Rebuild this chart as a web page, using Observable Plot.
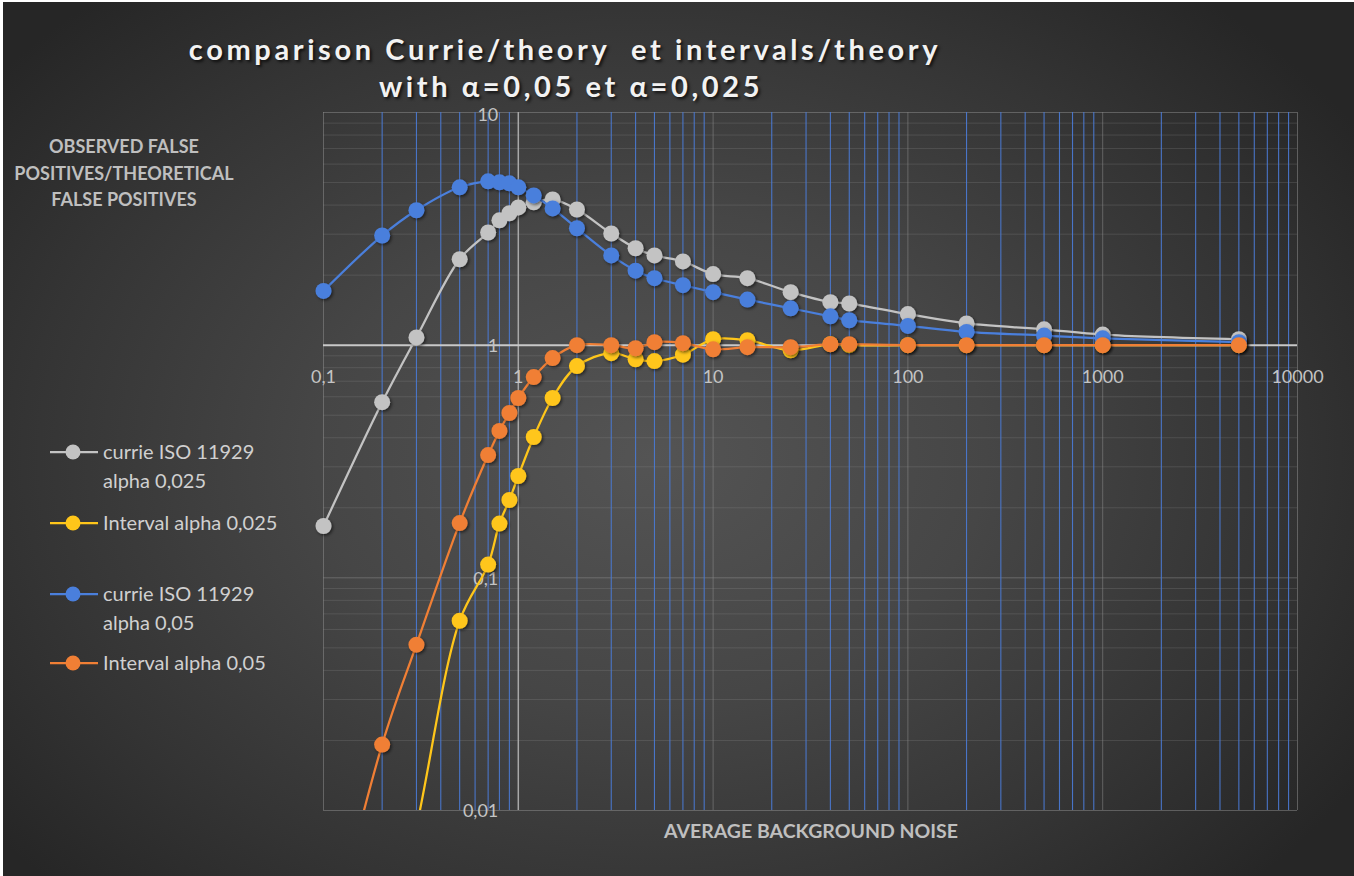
<!DOCTYPE html>
<html>
<head>
<meta charset="utf-8">
<script src="https://cdn.jsdelivr.net/npm/d3@7"></script>
<script src="https://cdn.jsdelivr.net/npm/@observablehq/plot@0.6"></script>
<style>
  html, body { margin: 0; padding: 0; background: #ffffff; }
  #wrap { position: relative; width: 1354px; height: 876px; overflow: hidden; font-family: Lato, "Open Sans", sans-serif; }
  #bg { position: absolute; left: 3px; top: 2px; right: 0; bottom: 0;
        background: radial-gradient(ellipse 62% 70% at 48% 52%, #545454 0%, #464646 40%, #343434 75%, #262626 100%); }
  #chart { position: absolute; left: 0; top: 0; }
  .ttl { position: absolute; color: #f2f2f2; font-weight: 700; font-size: 29px; letter-spacing: 3.6px; line-height: 0.8;
         text-shadow: 2px 2px 3px rgba(0,0,0,0.7); white-space: pre; transform: translate(-50%, -50%); }
  .ytl { position: absolute; color: #bfbfbf; font-weight: 700; font-size: 18px; white-space: nowrap; line-height: 1;
         transform: translate(-50%, -50%); text-align: center; }
  .leg { position: absolute; color: #d0d0d0; font-size: 20px; white-space: nowrap; line-height: 29px; }
</style>
</head>
<body>
<div id="wrap">
  <div id="bg"></div>
  <div id="chart"></div>
</div>
<script>
// ---- data ----
const noise = [0.1, 0.2, 0.3, 0.5, 0.7, 0.8, 0.9, 1, 1.2, 1.5, 2, 3, 4, 5, 7, 10, 15, 25, 40, 50, 100, 200, 500, 1000, 5000];
const currie025 = [0.167, 0.569, 1.08, 2.34, 3.05, 3.44, 3.69, 3.91, 4.11, 4.23, 3.83, 3.02, 2.61, 2.43, 2.29, 2.02, 1.94, 1.69, 1.53, 1.51, 1.36, 1.24, 1.17, 1.11, 1.06];
const interval025 = [0.0003, 0.002, 0.0085, 0.0654, 0.114, 0.171, 0.216, 0.274, 0.403, 0.593, 0.813, 0.924, 0.87, 0.854, 0.91, 1.06, 1.05, 0.95, 1.01, 1.0, 1.0, 1.0, 1.0, 1.0, 1.0];
const currie05 = [1.71, 2.96, 3.80, 4.77, 5.06, 5.01, 4.96, 4.77, 4.40, 3.87, 3.18, 2.43, 2.09, 1.94, 1.81, 1.69, 1.57, 1.44, 1.33, 1.28, 1.21, 1.14, 1.10, 1.07, 1.03];
const interval05 = [0.002, 0.0192, 0.0516, 0.172, 0.337, 0.428, 0.511, 0.593, 0.729, 0.880, 1.0, 1.0, 0.97, 1.03, 1.02, 0.96, 0.98, 0.98, 1.01, 1.01, 1.0, 1.0, 1.0, 1.0, 1.0];

const seriesNames = ["currie ISO 11929 alpha 0,025", "Interval alpha 0,025", "currie ISO 11929 alpha 0,05", "Interval alpha 0,05"];
const seriesLegend = [["currie ISO 11929", "alpha 0,025"], ["Interval alpha 0,025"], ["currie ISO 11929", "alpha 0,05"], ["Interval alpha 0,05"]];
const seriesColors = ["#c3c3c3", "#ffc61a", "#4a7fdc", "#f07f35"];
const seriesValues = [currie025, interval025, currie05, interval05];

const xTickValues = [0.1, 1, 10, 100, 1000, 10000];
const xTickLabels = ["0,1", "1", "10", "100", "1000", "10000"];
const yTickValues = [0.01, 0.1, 1, 10];
const yTickLabels = ["0,01", "0,1", "1", "10"];

const titleLines = ["comparison Currie/theory  et intervals/theory", "with \u03B1=0,05 et \u03B1=0,025"];
const yTitleLines = ["OBSERVED FALSE", "POSITIVES/THEORETICAL", "FALSE POSITIVES"];
const xTitle = "AVERAGE BACKGROUND NOISE";

// ---- derived tables ----
const rows = seriesNames.flatMap((s, i) => noise.map((x, j) => ({s, x, y: seriesValues[i][j]})));
const yTicks = yTickValues.map((v, i) => ({v, label: yTickLabels[i]}));
const decades = [0.1, 1, 10, 100, 1000];
const xMinor = decades.flatMap(d => [2,3,4,5,6,7,8,9].map(k => k * d));
const yMinor = [0.01, 0.1, 1].flatMap(d => [2,3,4,5,6,7,8,9].map(k => k * d));

const tickStyle = {fill: "#c4c4c4", fontSize: 18, fontFamily: "Lato, sans-serif"};
const marks = [
  Plot.gridY(yMinor, {stroke: "#9a9a9a", strokeOpacity: 0.22}),
  Plot.gridY([0.01, 0.1, 10], {stroke: "#9a9a9a", strokeOpacity: 0.45}),
  Plot.gridX(xMinor, {stroke: "#4a78d0", strokeOpacity: 0.95, strokeWidth: 1.1}),
  Plot.gridX([0.1, 10, 100, 1000, 10000], {stroke: "#8a8a8a", strokeOpacity: 0.55}),
  Plot.ruleX([1], {stroke: "#a8a8a8", strokeWidth: 1.5}),
  Plot.ruleY([1], {stroke: "#c8c8c8", strokeWidth: 2}),
  Plot.text(xTickValues, {x: d => d, y: () => 1, text: (d, i) => xTickLabels[i], dy: 32, ...tickStyle}),
  Plot.text(yTicks, {filter: d => d.v < 10, x: () => 1, y: "v", text: "label", dx: -20, dy: 1, textAnchor: "end", ...tickStyle}),
  Plot.text(yTicks, {filter: d => d.v >= 10, x: () => 1, y: "v", text: "label", dx: -20, dy: 3, textAnchor: "end", ...tickStyle})
];
seriesNames.forEach((s, i) => {
  marks.push(Plot.line(rows, {filter: d => d.s === s, x: "x", y: "y", stroke: seriesColors[i],
    strokeWidth: 2.25, curve: "catmull-rom", clip: true}));
  marks.push(Plot.dot(rows, {filter: d => d.s === s && d.y >= 0.01, x: "x", y: "y", r: 8,
    fill: seriesColors[i], stroke: "none"}));
});

const chart = Plot.plot({
  width: 1354,
  height: 876,
  marginLeft: 323,
  marginRight: 57,
  marginTop: 112,
  marginBottom: 66,
  style: {background: "transparent", overflow: "visible"},
  x: {type: "log", domain: [0.1, 10000], axis: null},
  y: {type: "log", domain: [0.01, 10], axis: null},
  marks
});
document.getElementById("chart").appendChild(chart);

// drop shadow for markers
const svg = d3.select(chart);
const defs = svg.insert("defs", ":first-child");
const f = defs.append("filter").attr("id", "sh").attr("x", "-50%").attr("y", "-50%").attr("width", "200%").attr("height", "200%");
f.append("feDropShadow").attr("dx", 1.5).attr("dy", 1.5).attr("stdDeviation", 1.5).attr("flood-color", "#000").attr("flood-opacity", 0.55);
svg.selectAll('g[aria-label="dot"]').attr("filter", "url(#sh)");

// ---- overlays ----
const wrap = document.getElementById("wrap");
function addDiv(cls, text, x, y) {
  const d = document.createElement("div");
  d.className = cls; d.textContent = text;
  d.style.left = x + "px"; d.style.top = y + "px";
  wrap.appendChild(d); return d;
}
addDiv("ttl", titleLines[0], 565, 49);
addDiv("ttl", titleLines[1], 571, 86);
yTitleLines.forEach((t, i) => addDiv("ytl", t, 124, [146, 173, 199][i]));
const xt = addDiv("ytl", xTitle, 811, 831);
xt.style.fontSize = "19.5px";

const legY = [452, 523, 594, 663];
seriesNames.forEach((s, i) => {
  const y = legY[i];
  const ls = document.createElementNS("http://www.w3.org/2000/svg", "svg");
  ls.setAttribute("width", 52); ls.setAttribute("height", 20);
  ls.style.position = "absolute"; ls.style.left = "48px"; ls.style.top = (y - 10) + "px";
  d3.select(ls).append("line").attr("x1", 2).attr("x2", 50).attr("y1", 10).attr("y2", 10)
    .attr("stroke", seriesColors[i]).attr("stroke-width", 2.25);
  d3.select(ls).append("circle").attr("cx", 25).attr("cy", 10).attr("r", 7.5).attr("fill", seriesColors[i]);
  wrap.appendChild(ls);
  const d = document.createElement("div");
  d.className = "leg";
  d.innerHTML = seriesLegend[i].join("<br>");
  d.style.left = "103px"; d.style.top = (y - 15) + "px";
  wrap.appendChild(d);
});
</script>
</body>
</html>
